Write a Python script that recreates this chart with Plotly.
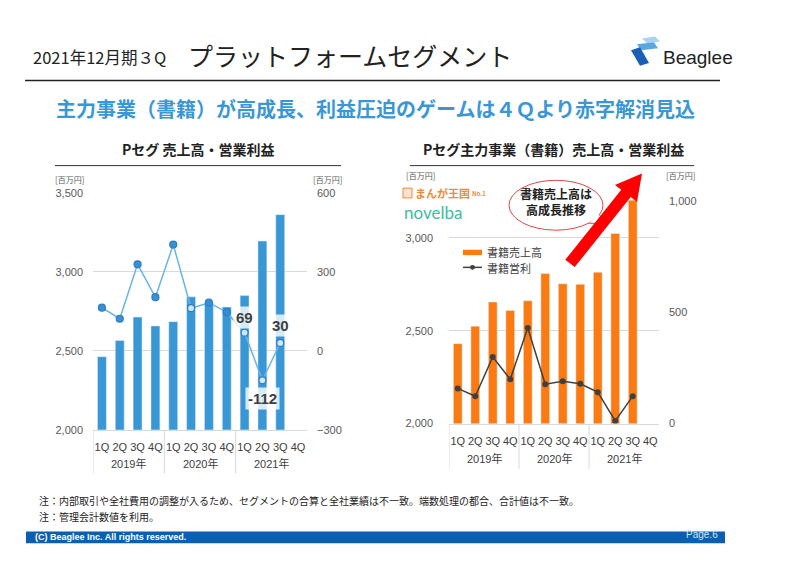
import math
import plotly.graph_objects as go

# the page has an 8px body margin on every side: draw the figure inside it so the page is 800x567
OFF = 8
W, H = 800 - 2 * OFF, 567 - 2 * OFF

years = ["2019年"] * 4 + ["2020年"] * 4 + ["2021年"] * 4
quarters = ["1Q", "2Q", "3Q", "4Q"] * 3
year_names = ["2019年", "2020年", "2021年"]

# Pセグ 売上高 / 営業利益 (百万円)
pseg_sales = [2463, 2565, 2714, 2658, 2685, 2842, 2805, 2778, 2850, 3196, 3363, None]
pseg_profit = [164, 122, 329, 204, 404, 162, 183, 147, 69, -112, 30, None]
labeled = {8: 15, 9: -18, 10: 17}   # index -> label offset (px)

# 書籍 売上高 / 営業利益 (百万円)
book_sales = [2430, 2524, 2654, 2609, 2661, 2807, 2752, 2749, 2814, 3023, 3202, None]
book_profit = [158, 123, 299, 199, 429, 177, 190, 179, 141, 12, 123, None]

JP = "Noto Sans CJK JP"
NUM = "Arial, Liberation Sans, Noto Sans CJK JP"
BLUE = "#3a97d6"
ORANGE = "#fb7a12"
DARK = "#404040"
GRID = "#d9d9d9"


def px(x):
    return (x - OFF) / W


def py(y):
    return 1 - (y - OFF) / H


def path(points, close=True):
    s = "M " + " L ".join(f"{px(x):.5f},{py(y):.5f}" for x, y in points)
    return s + (" Z" if close else "")


xcat = [y + q for y, q in zip(years, quarters)]

fig = go.Figure()

# left chart
fig.add_trace(go.Bar(x=xcat, y=pseg_sales, marker_color=BLUE, xaxis="x", yaxis="y", name="売上高"))
fill = ["#3a8fd2"] * 5 + ["#cfe6f7", "#3a8fd2", "#3a8fd2"] + ["#cfe6f7"] * 4
fig.add_trace(go.Scatter(x=xcat, y=pseg_profit, mode="lines+markers", xaxis="x", yaxis="y2",
                         line=dict(color="#6ab4e8", width=1.5),
                         marker=dict(size=7, color=fill, line=dict(color="#2a7fc4", width=1.2)),
                         name="営業利益"))

# right chart
fig.add_trace(go.Bar(x=xcat, y=book_sales, marker_color=ORANGE, xaxis="x2", yaxis="y3",
                     name="書籍売上高"))
fig.add_trace(go.Scatter(x=xcat, y=book_profit, mode="lines+markers", xaxis="x2", yaxis="y4",
                         line=dict(color=DARK, width=1.5),
                         marker=dict(size=6, color=DARK), name="書籍営利"))

xstyle = dict(type="category", range=[-0.5, len(xcat) - 0.5], tickvals=xcat, ticktext=quarters,
              showline=True, linecolor=GRID, ticks="", showgrid=False, tickangle=0,
              ticklabelstandoff=7, tickfont=dict(family=NUM, size=11, color=DARK))
ystyle = dict(showline=False, ticks="", zeroline=False, tickformat=",",
              tickfont=dict(family=NUM, size=11, color="#595959"))

fig.update_layout(
    width=W, height=H, margin=dict(l=0, r=0, t=0, b=0),
    paper_bgcolor="white", plot_bgcolor="white",
    bargap=0.5, showlegend=False,
    xaxis=dict(domain=[px(93), px(307)], anchor="y", **xstyle),
    yaxis=dict(domain=[py(433), py(191)], range=[2000, 3500], dtick=500,
               showgrid=True, gridcolor=GRID, anchor="x", ticklabelstandoff=9, **ystyle),
    yaxis2=dict(overlaying="y", side="right", range=[-300, 600], dtick=300,
                showgrid=False, anchor="x", ticklabelstandoff=9, **ystyle),
    xaxis2=dict(domain=[px(449), px(659)], anchor="y3", **xstyle),
    yaxis3=dict(domain=[py(426.7), py(189.2)], range=[2000, 3250], tickvals=[2000, 2500, 3000],
                showgrid=True, gridcolor=GRID, anchor="x2", ticklabelstandoff=15, **ystyle),
    yaxis4=dict(overlaying="y3", side="right", range=[0, 1043], tickvals=[0, 500, 1000],
                showgrid=False, anchor="x2", ticklabelstandoff=9, **ystyle),
)

ann = []
shapes = []


def text(x, y, t, size, color="#222", anchor="left", family=JP, **kw):
    ann.append(dict(x=px(x), y=py(y), xref="paper", yref="paper", text=t, showarrow=False,
                    xanchor=anchor, yanchor="middle", font=dict(family=family, size=size, color=color), **kw))


# year group labels and dividers under each category axis
for xa, top, label_y, bottom in [("x", 433, 467, 478), ("x2", 426.7, 462, 473)]:
    for k, name in enumerate(year_names):
        ann.append(dict(x=4 * k + 1.5, y=py(label_y), xref=xa, yref="paper", text=name, showarrow=False,
                        yanchor="middle", font=dict(family=NUM, size=11, color=DARK)))
        shapes.append(dict(type="line", xref=xa, yref="paper", x0=4 * k - 0.5, x1=4 * k - 0.5,
                           y0=py(top), y1=py(bottom), line=dict(color=GRID, width=1)))

# header
text(31, 52, "2021年12月期３Q", 16.5)
text(186, 50, "プラットフォームセグメント", 25)
text(661, 52, "Beaglee", 19, family="Arial, Liberation Sans")
text(375, 105, "<b>主力事業（書籍）が高成長、利益圧迫のゲームは４Ｑより赤字解消見込</b>", 20, BLUE, "center")

# chart titles
text(198, 146, "<b>Pセグ 売上高・営業利益</b>", 14, "#222", "center")
text(553, 146, "<b>Pセグ主力事業（書籍）売上高・営業利益</b>", 14, "#222", "center")
text(53, 177, "[百万円]", 8, "#595959")
text(311, 177, "[百万円]", 8, "#595959")
text(404, 173, "[百万円]", 8, "#595959")
text(664, 173, "[百万円]", 8, "#595959")

# logos
text(413, 191, "<b>まんが王国</b>", 11, "#ef8a3a")
text(470, 191, "<b>No.1</b>", 6, "#ef8a3a")
text(402, 211, "novelba", 17, "#3dbd9c", family="Lato, Open Sans")

# legend of the right chart
shapes.append(dict(type="rect", xref="paper", yref="paper", x0=px(463), x1=px(482), y0=py(254.5), y1=py(249),
                   fillcolor=ORANGE, line=dict(width=0)))
shapes.append(dict(type="line", xref="paper", yref="paper", x0=px(463), x1=px(482), y0=py(267), y1=py(267),
                   line=dict(color=DARK, width=1.5)))
shapes.append(dict(type="circle", xref="paper", yref="paper", x0=px(470), x1=px(475), y0=py(269.5), y1=py(264.5),
                   fillcolor=DARK, line=dict(width=0)))
text(485, 251.5, "書籍売上高", 11, DARK)
text(485, 267.5, "書籍営利", 11, DARK)

# callout
text(556, 200, "<b>書籍売上高は<br>高成長推移</b>", 12, "#222", "center")

# data labels
for i, dy in labeled.items():
    ann.append(dict(x=i, y=pseg_profit[i], xref="x", yref="y2", text=f"<b>{pseg_profit[i]}</b>",
                    showarrow=False, yshift=dy, font=dict(family=NUM, size=15, color=DARK),
                    bgcolor="rgba(255,255,255,0.8)", borderpad=2))

# notes & footer
text(37, 505, "注：内部取引や全社費用の調整が入るため、セグメントの合算と全社業績は不一致。端数処理の都合、合計値は不一致。", 10)
text(37, 522, "注：管理会計数値を利用。", 10)
text(33, 543, "<b>(C) Beaglee Inc. All rights reserved.</b>", 9, "white", family="Arial, Liberation Sans")
text(720, 540, "Page.6", 10, "#d6e6f5", "right", family="Arial, Liberation Sans")

line = lambda x0, y0, x1, y1, c, w: shapes.append(dict(type="line", xref="paper", yref="paper",
                                                       x0=px(x0), y0=py(y0), x1=px(x1), y1=py(y1),
                                                       line=dict(color=c, width=w)))
line(25, 76, 720, 76, "#222", 1.5)
line(55, 163, 341, 163, "#333", 1)
line(410, 163, 694, 163, "#333", 1)

shapes.append(dict(type="rect", xref="paper", yref="paper", x0=px(26), x1=px(725), y0=py(549), y1=py(537),
                   fillcolor="#0c5fb0", line=dict(width=0)))

# Beaglee icon
for pts, c in [([(642, 33), (655, 31), (660, 36), (647, 38)], "#a9d3f0"),
               ([(637, 39), (654, 37), (658, 43), (641, 45)], "#5aa8e0"),
               ([(631, 45), (640, 42), (649, 58), (640, 61)], "#1a5fb4")]:
    shapes.append(dict(type="path", xref="paper", yref="paper", path=path(pts),
                       fillcolor=c, line=dict(width=0)))

# まんが王国 icon
shapes.append(dict(type="rect", xref="paper", yref="paper", x0=px(403), x1=px(412), y0=py(196), y1=py(186),
                   fillcolor="#fbe3cf", line=dict(color="#ef8a3a", width=1)))

# speech bubble
shapes.append(dict(type="circle", xref="paper", yref="paper", x0=px(509), x1=px(603), y0=py(229), y1=py(178),
                   fillcolor="white", line=dict(color="#e04848", width=1)))
shapes.append(dict(type="path", xref="paper", yref="paper",
                   path=path([(599, 213), (608, 222), (589, 222)], close=False),
                   fillcolor="white", line=dict(color="#e04848", width=1)))

# red arrow
tip, tail = (642, 171), (570, 263)
dx, dy = tip[0] - tail[0], tip[1] - tail[1]
L = math.hypot(dx, dy)
ux, uy = dx / L, dy / L
nx, ny = -uy, ux
base = (tip[0] - 26 * ux, tip[1] - 26 * uy)
pts = [(tail[0] + 6 * nx, tail[1] + 6 * ny), (base[0] + 6 * nx, base[1] + 6 * ny),
       (base[0] + 14 * nx, base[1] + 14 * ny), tip,
       (base[0] - 14 * nx, base[1] - 14 * ny), (base[0] - 6 * nx, base[1] - 6 * ny),
       (tail[0] - 6 * nx, tail[1] - 6 * ny)]
shapes.append(dict(type="path", xref="paper", yref="paper", path=path(pts),
                   fillcolor="#ff0000", line=dict(width=0)))

fig.update_layout(annotations=ann, shapes=shapes)

fig.write_html("out.html")
